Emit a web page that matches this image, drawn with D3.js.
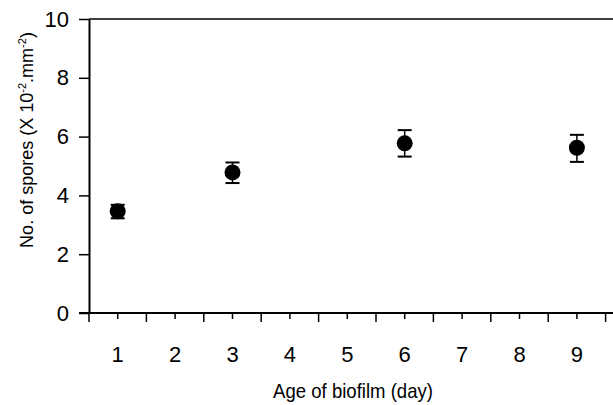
<!DOCTYPE html>
<html>
<head>
<meta charset="utf-8">
<script src="https://cdn.jsdelivr.net/npm/d3@7"></script>
<style>
  body { margin: 0; background: #fff; }
  text { font-family: "Liberation Sans", Arial, sans-serif; fill: #000; }
</style>
</head>
<body>
<svg id="chart" width="613" height="405"></svg>
<script>
// day categories on the x axis
const days = ["1", "2", "3", "4", "5", "6", "7", "8", "9"]
// measured days, mean spores and error bar ends
const pointDays = ["1", "3", "6", "9"]
const means = [3.46, 4.78, 5.77, 5.62]
const lower = [3.22, 4.42, 5.32, 5.14]
const upper = [3.68, 5.12, 6.22, 6.06]
const yTicks = [0, 2, 4, 6, 8, 10]

let svg = d3.select("#chart")
let mLeft = 89, mTop = 19, mBottom = 313
let W = +svg.attr("width")

let x = d3.scaleBand().domain(days).range([mLeft, mLeft + 9 * 57.4])
let y = d3.scaleLinear().domain([0, 10]).range([mBottom, mTop])

// squeeze a title to a width, the source uses a condensed face
const fit = (t, width, base) => {
  let len = t.node().getComputedTextLength()
  t.attr("transform", base + " scale(" + (width / len) + ",1)")
}

// top border line
svg.append("line")
  .attr("x1", mLeft).attr("x2", W)
  .attr("y1", y(10)).attr("y2", y(10))
  .attr("stroke", "#000").attr("stroke-width", 1.5)

// y axis
let ya = svg.append("g")
  .attr("transform", "translate(" + mLeft + ",0)")
  .call(d3.axisLeft(y).tickValues(yTicks).tickSize(10).tickPadding(10).tickSizeOuter(0))
ya.select(".domain").attr("stroke-width", 2)
ya.selectAll(".tick line").attr("stroke-width", 1.5)
ya.selectAll(".tick text").attr("font-size", "22px").attr("font-family", "Liberation Sans, Arial, sans-serif")

// x axis: major ticks on band edges, minor ticks at centres
let edges = d3.range(0, 10).map(i => mLeft + i * x.bandwidth())
let xa = svg.append("g").attr("transform", "translate(0," + mBottom + ")")
xa.append("line")
  .attr("x1", mLeft - 10).attr("x2", W)
  .attr("stroke", "#000").attr("stroke-width", 2)
xa.selectAll(".major").data(edges).enter().append("line")
  .attr("x1", d => d).attr("x2", d => d)
  .attr("y1", 0).attr("y2", 9)
  .attr("stroke", "#000").attr("stroke-width", 1.5)
xa.selectAll(".minor").data(days).enter().append("line")
  .attr("x1", d => x(d) + x.bandwidth() / 2).attr("x2", d => x(d) + x.bandwidth() / 2)
  .attr("y1", 0).attr("y2", 6)
  .attr("stroke", "#000").attr("stroke-width", 1.5)
xa.selectAll(".lab").data(days).enter().append("text")
  .attr("x", d => x(d) + x.bandwidth() / 2)
  .attr("y", 49)
  .attr("text-anchor", "middle")
  .attr("font-size", "22px")
  .text(d => d)

// axis titles
let xt = svg.append("text")
  .attr("text-anchor", "middle")
  .attr("font-size", "20px")
  .text("Age of biofilm (day)")
fit(xt, 160, "translate(353,398)")

let yt = svg.append("text")
  .attr("text-anchor", "middle")
  .attr("font-size", "18px")
yt.append("tspan").text("No. of spores (X 10")
yt.append("tspan").attr("dy", -7).attr("font-size", "11px").text("-2")
yt.append("tspan").attr("dy", 7).text(".mm")
yt.append("tspan").attr("dy", -7).attr("font-size", "11px").text("-2")
yt.append("tspan").attr("dy", 7).text(")")
fit(yt, 216, "translate(33,140) rotate(-90)")

// error bars and points
let pts = pointDays.map((d, i) => ({ day: d, m: means[i], lo: lower[i], hi: upper[i] }))
let cx = d => x(d.day) + x.bandwidth() / 2
let g = svg.append("g")
g.selectAll(".err").data(pts).enter().append("line")
  .attr("x1", cx).attr("x2", cx)
  .attr("y1", d => y(d.lo)).attr("y2", d => y(d.hi))
  .attr("stroke", "#000").attr("stroke-width", 1.5)
g.selectAll(".capHi").data(pts).enter().append("line")
  .attr("x1", d => cx(d) - 7).attr("x2", d => cx(d) + 7)
  .attr("y1", d => y(d.hi)).attr("y2", d => y(d.hi))
  .attr("stroke", "#000").attr("stroke-width", 2)
g.selectAll(".capLo").data(pts).enter().append("line")
  .attr("x1", d => cx(d) - 7).attr("x2", d => cx(d) + 7)
  .attr("y1", d => y(d.lo)).attr("y2", d => y(d.lo))
  .attr("stroke", "#000").attr("stroke-width", 2)
g.selectAll("circle").data(pts).enter().append("circle")
  .attr("cx", cx).attr("cy", d => y(d.m))
  .attr("r", 8)
  .attr("fill", "#000")
</script>
</body>
</html>
